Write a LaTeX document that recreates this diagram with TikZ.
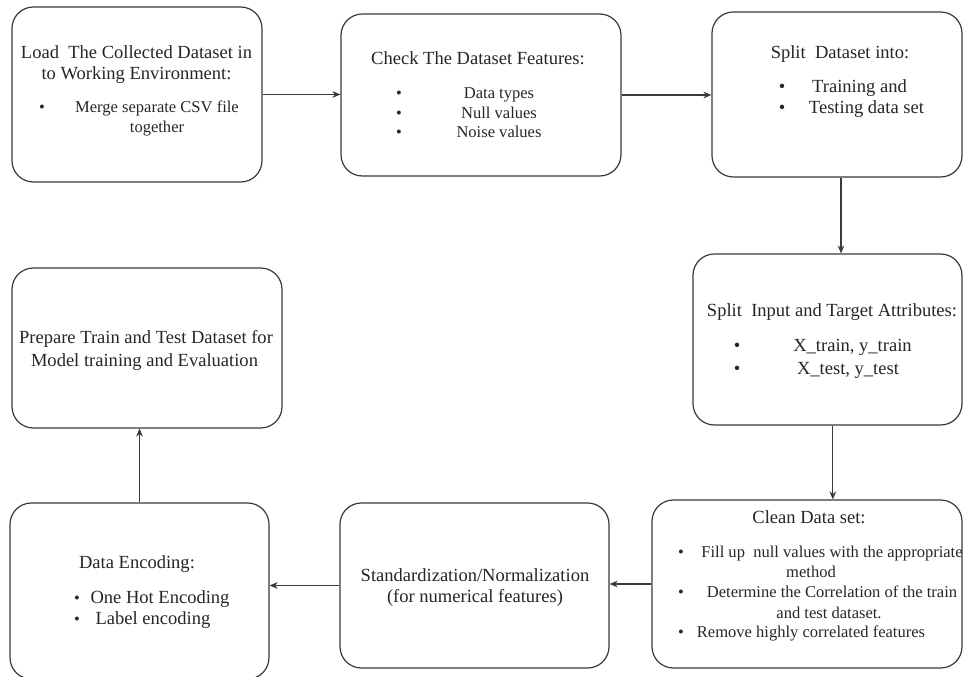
\documentclass[tikz,border=0pt]{standalone}
\usepackage{fontspec}
\setmainfont{Liberation Serif}
\usetikzlibrary{arrows.meta}
\definecolor{edge}{HTML}{3A3A3A}
\definecolor{ink}{HTML}{262626}
\newcommand{\headsize}{\fontsize{13.9}{17}\selectfont}
\newcommand{\itemsize}{\fontsize{12.4}{15}\selectfont}

\begin{document}
\begin{tikzpicture}[x=0.75pt,y=-0.75pt,
  stepbox/.style 2 args={draw=edge, line width=0.9pt, rounded corners=16pt,
    minimum width=#1*0.75pt, minimum height=#2*0.75pt, inner sep=0pt},
  head/.style={text=ink, font=\headsize, inner sep=0pt, anchor=base},
  item/.style={text=ink, font=\itemsize, inner sep=0pt, anchor=base},
  flow/.style={draw=edge, line width=0.9pt, -{Stealth[length=6pt,width=5pt]}}]

\clip (0,0) rectangle (964,677);
\fill[white] (0,0) rectangle (964,677);

% process boxes
\node[stepbox={250}{175}] (load)  at (137,94.5)   {};
\node[stepbox={280}{162}] (check) at (481,95)     {};
\node[stepbox={250}{165}] (sd)    at (837,94.5)   {};
\node[stepbox={269}{171}] (si)    at (827.5,339.5){};
\node[stepbox={310}{168}] (clean) at (807,584)    {};
\node[stepbox={269}{165}] (std)   at (474.5,585.5){};
\node[stepbox={259}{176}] (de)    at (139.5,591)  {};
\node[stepbox={270}{160}] (prep)  at (147,348)    {};

% load box text
\node[head] (l1) at (136.5,59) {Load\ \ The Collected Dataset in};
\node[head] (l2) at (136.5,80) {to Working Environment:};
\node[item] (lb) at (42,113) {•};
\node[item] (l3) at (157,113) {Merge separate CSV file};
\node[item] (l4) at (157,133) {together};

% check box text
\node[head] (c1) at (478,65) {Check The Dataset Features:};
\node[item] (cb1) at (399,99) {•};
\node[item] (cb2) at (399,119) {•};
\node[item] (cb3) at (399,138) {•};
\node[item] (c2) at (499,99) {Data types};
\node[item] (c3) at (499,119) {Null values};
\node[item] (c4) at (499,138) {Noise values};

% split dataset text
\node[head] (s1) at (840,59) {Split\ \ Dataset into:};
\node[head] (sb1) at (782,93) {•};
\node[head] (sb2) at (782,114) {•};
\node[head] (s2) at (859.5,93) {Training and};
\node[head] (s3) at (866.5,114) {Testing data set};

% split input text
\node[head] (i1) at (832,317) {Split\ \ Input and Target Attributes:};
\node[head] (ib1) at (737,352) {•};
\node[head] (ib2) at (737,374) {•};
\node[head] (i2) at (852.5,352) {X\_train, y\_train};
\node[head] (i3) at (848,374) {X\_test, y\_test};

% clean text
\node[head] (k1) at (809,523) {Clean Data set:};
\node[item] (kb1) at (681,557) {•};
\node[item] (kb2) at (681,597) {•};
\node[item] (kb3) at (681,637) {•};
\node[item] (k2) at (832,557) {Fill up\ \ null values with the appropriate};
\node[item] (k3) at (811,577) {method};
\node[item] (k4) at (832,597) {Determine the Correlation of the train};
\node[item] (k5) at (829,618) {and test dataset.};
\node[item] (k6) at (811,637) {Remove highly correlated features};

% standardization text
\node[head] (n1) at (475,581) {Standardization/Normalization};
\node[head] (n2) at (475,602) {(for numerical features)};

% encoding text
\node[head] (e1) at (137,568) {Data Encoding:};
\node[item] (eb1) at (77,603) {•};
\node[item] (eb2) at (77,624) {•};
\node[head] (e2) at (160,603) {One Hot Encoding};
\node[head] (e3) at (153,624) {Label encoding};

% prepare text
\node[head] (p1) at (146,344) {Prepare Train and Test Dataset for};
\node[head] (p2) at (144.5,367) {Model training and Evaluation};

% connectors
\draw[flow] (load.east) -- (load.east -| check.west);
\draw[flow] (check.east) -- (check.east -| sd.west);
\draw[flow] ([xshift=3pt]sd.south) -- ([xshift=3pt]sd.south |- si.north);
\draw[flow] ([xshift=4pt]si.south) -- ([xshift=4pt]si.south |- clean.north);
\draw[flow] (clean.west) -- (clean.west -| std.east);
\draw[flow] (std.west) -- (std.west -| de.east);
\draw[flow] (de.north) -- (de.north |- prep.south);
\end{tikzpicture}
\end{document}
